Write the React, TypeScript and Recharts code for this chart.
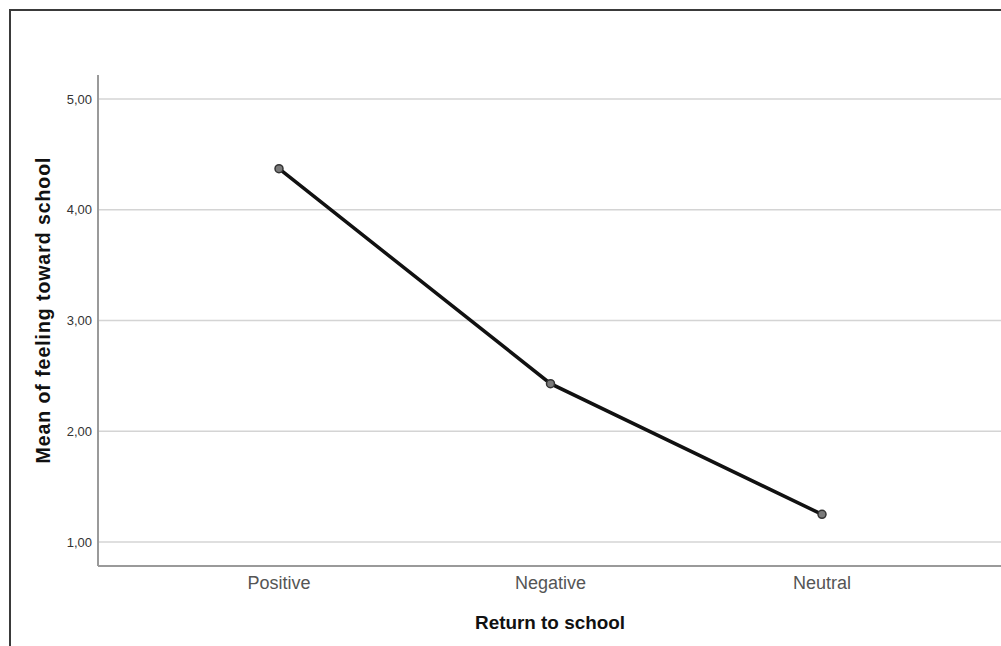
import { LineChart, Line, XAxis, YAxis, CartesianGrid, Label } from 'recharts';

// categories and means
const categories = ['Positive', 'Negative', 'Neutral'];
const meanFeeling = [4.37, 2.43, 1.25];
const yTicks = [1, 2, 3, 4, 5];

const data = categories.map((name, i) => ({ name, mean: meanFeeling[i] }));

const FONT = '"Liberation Sans", Arial, sans-serif';

/** Vertical axis title, drawn at a fixed left offset */
function YTitle({ viewBox }: any) {
  const cy = viewBox.y + viewBox.height / 2 - 10;
  return (
    <text
      x={43}
      y={cy}
      transform={`rotate(-90, 43, ${cy})`}
      textAnchor="middle"
      dominantBaseline="central"
      fontFamily={FONT}
      fontSize={19.5}
      fontWeight="bold"
      fill="#111"
      textLength={306}
      lengthAdjust="spacing"
    >
      Mean of feeling toward school
    </text>
  );
}

function XTitle() {
  return (
    <text
      x={550}
      y={629}
      textAnchor="middle"
      fontFamily={FONT}
      fontSize={19}
      fontWeight="bold"
      fill="#111"
      textLength={150}
      lengthAdjust="spacingAndGlyphs"
    >
      Return to school
    </text>
  );
}

// grid only at the labelled ticks (no line along the top edge)
const gridRows = ({ yAxis }: any) => {
  const s = yAxis?.scale;
  if (typeof s === 'function') return yTicks.map((t) => s(t));
  if (s && typeof s.map === 'function') return yTicks.map((t) => s.map(t));
  return [];
};

export default function App() {
  return (
    <div style={{ position: 'fixed', left: 0, top: 0, width: 1001, height: 646, background: '#fff', overflow: 'hidden' }}>
      {/* outer frame (only top and left edges are visible) */}
      <div
        style={{
          position: 'absolute',
          left: 9,
          top: 9,
          right: -10,
          bottom: -10,
          borderTop: '2px solid #3a3a3a',
          borderLeft: '2px solid #3a3a3a',
        }}
      />
      <LineChart
        width={1001}
        height={646}
        data={data}
        margin={{ top: 75, right: 0, left: 0, bottom: 0 }}
        style={{ position: 'absolute', left: 0, top: 0 }}
      >
        <CartesianGrid
          horizontal
          vertical={false}
          stroke="#d4d4d4"
          strokeWidth={1.5}
          horizontalCoordinatesGenerator={gridRows}
        />
        <XAxis
          dataKey="name"
          height={80}
          padding={{ left: 181, right: 179 }}
          axisLine={{ stroke: '#9a9a9a', strokeWidth: 2 }}
          tickLine={false}
          tickMargin={4}
          tick={{ fontSize: 18, fill: '#555', fontFamily: FONT }}
        >
          <Label content={<XTitle />} />
        </XAxis>
        <YAxis
          width={98}
          domain={[0.784, 5.216]}
          ticks={yTicks}
          allowDataOverflow
          axisLine={{ stroke: '#9a9a9a', strokeWidth: 2 }}
          tickLine={false}
          tickMargin={0}
          tick={{ fontSize: 13, fill: '#333', fontFamily: FONT }}
          tickFormatter={(v: number) => v.toFixed(2).replace('.', ',')}
        >
          <Label content={<YTitle />} />
        </YAxis>
        <Line
          type="linear"
          dataKey="mean"
          stroke="#111"
          strokeWidth={3.5}
          dot={{ r: 4, fill: '#7a7a7a', stroke: '#333', strokeWidth: 1.5 }}
          isAnimationActive={false}
        />
      </LineChart>
    </div>
  );
}
